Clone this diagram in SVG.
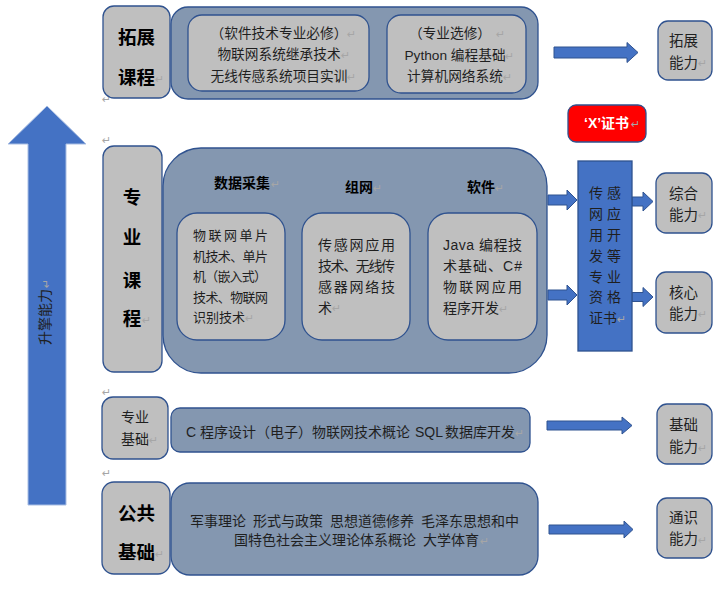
<svg xmlns="http://www.w3.org/2000/svg" width="718" height="591" viewBox="0 0 718 591">
<style>
text{font-family:"Liberation Sans","Noto Sans CJK SC",sans-serif;fill:#1f1f1f}
.lbl{fill:#BFBFBF;stroke:#2F528F;stroke-width:1.3}
.cnt{fill:#8497B0;stroke:#2F528F;stroke-width:1.3}
.arr{fill:#4472C4;stroke:#2F528F;stroke-width:1}
.b18{font-size:18.5px;font-weight:bold;fill:#000}
.t14{font-size:14px}
.t13{font-size:13px}
.t137{font-size:13.7px}
.ab{font-size:14.5px}
.h14{font-size:14px;font-weight:bold;fill:#000}
.rm{font-family:"DejaVu Sans",sans-serif;font-size:11px;fill:#A6A6A6}
</style>
<rect width="718" height="591" fill="#fff"/>
<g id="connectors">
<polygon class="arr" points="28,505 66,505 66,144 86,144 47,106 8,144 28,144" style="stroke:#A9BEE3"/>
<polygon class="arr" points="554,47 627,47 627,42.5 638,52.5 627,62.5 627,58 554,58"/>
<polygon class="arr" points="548,195 567,195 567,190 577,200 567,210 567,205 548,205"/>
<polygon class="arr" points="548,290 567,290 567,285 577,295 567,305 567,300 548,300"/>
<polygon class="arr" points="632,197 643,197 643,192 653,201.5 643,211 643,206 632,206"/>
<polygon class="arr" points="632,292.5 643,292.5 643,287.5 653,297 643,306.5 643,301.5 632,301.5"/>
<polygon class="arr" points="547,421 622,421 622,417 632,425.5 622,434 622,430 547,430"/>
<polygon class="arr" points="549,525 624,525 624,521 633,529.5 624,538 624,534 549,534"/>
</g>
<g id="arrow-label">
<g transform="translate(50,345) rotate(-90)">
<text x="0" y="0" class="t14">升擎能力</text>
<text x="57" y="0" class="rm">↵</text>
</g>
</g>
<g id="paragraph-marks">
<text x="102" y="103" class="rm">↵</text>
<text x="102" y="144" class="rm">↵</text>
<text x="102" y="396" class="rm">↵</text>
<text x="102" y="477" class="rm">↵</text>
</g>
<g id="tuozhan-label">
<rect class="lbl" x="103" y="6" width="67" height="92" rx="11"/>
<text x="136.5" y="43.5" class="b18" text-anchor="middle">拓展</text>
<text x="136.5" y="83.5" class="b18" text-anchor="middle">课程</text>
<text x="155" y="83" class="rm">↵</text>
</g>
<g id="tuozhan-courses">
<rect class="cnt" x="171" y="7" width="367" height="92" rx="17"/>
<rect class="lbl" x="188" y="15" width="181" height="76" rx="14"/>
<text x="279" y="38" class="t137" text-anchor="middle">（软件技术专业必修）</text>
<text x="347" y="38" class="rm">↵</text>
<text x="279" y="58.5" class="t137" text-anchor="middle">物联网系统继承技术</text>
<text x="341" y="58.5" class="rm">↵</text>
<text x="279" y="81" class="t137" text-anchor="middle">无线传感系统项目实训</text>
<text x="347" y="81" class="rm">↵</text>
<rect class="lbl" x="387" y="15" width="139" height="78" rx="14"/>
<text x="450" y="38" class="t137" text-anchor="middle">（专业选修）</text>
<text x="496" y="38" class="rm">↵</text>
<text x="455" y="60" class="t137" text-anchor="middle">Python 编程基础</text>
<text x="505" y="60" class="rm">↵</text>
<text x="455" y="81" class="t137" text-anchor="middle">计算机网络系统</text>
<text x="503" y="81" class="rm">↵</text>
</g>
<g id="tuozhan-ability">
<rect class="lbl" x="658" y="21" width="54" height="59" rx="10"/>
<text x="669" y="45.5" class="ab">拓展</text>
<text x="669" y="67.5" class="ab">能力</text>
<text x="698" y="67" class="rm">↵</text>
</g>
<g id="x-cert">
<rect x="568" y="105" width="78" height="37" rx="8" fill="#FF0000" stroke="#2F528F" stroke-width="1.3"/>
<text x="584" y="128" style="font-size:14px;font-weight:bold;fill:#fff">‘X’证书</text>
<text x="631" y="128" class="rm">↵</text>
</g>
<g id="zhuanye-label">
<rect class="lbl" x="103" y="146" width="59" height="226" rx="11"/>
<text x="132" y="203.5" class="b18" text-anchor="middle">专</text>
<text x="132" y="243.5" class="b18" text-anchor="middle">业</text>
<text x="132" y="286.5" class="b18" text-anchor="middle">课</text>
<text x="132" y="324.5" class="b18" text-anchor="middle">程</text>
<text x="142" y="324" class="rm">↵</text>
</g>
<g id="zhuanye-courses">
<rect class="cnt" x="163" y="148" width="384" height="225" rx="38"/>
<text x="242" y="188" class="h14" text-anchor="middle">数据采集</text>
<text x="271" y="188" class="rm">↵</text>
<text x="359" y="192" class="h14" text-anchor="middle">组网</text>
<text x="373" y="192" class="rm">↵</text>
<text x="481" y="192" class="h14" text-anchor="middle">软件</text>
<text x="495" y="192" class="rm">↵</text>
<rect class="lbl" x="177" y="213" width="108" height="127" rx="20"/>
<text x="193" y="240" class="t13" textLength="75" lengthAdjust="spacing">物联网单片</text>
<text x="193" y="260.5" class="t13" textLength="75" lengthAdjust="spacing">机技术、单片</text>
<text x="193" y="281" class="t13" textLength="74" lengthAdjust="spacing">机（嵌入式）</text>
<text x="193" y="302" class="t13" textLength="75" lengthAdjust="spacing">技术、物联网</text>
<text x="193" y="322" class="t13" textLength="52" lengthAdjust="spacing">识别技术</text>
<text x="245" y="322" class="rm">↵</text>
<rect class="lbl" x="302" y="213" width="108" height="127" rx="20"/>
<text x="318" y="250" class="t14" textLength="77" lengthAdjust="spacing">传感网应用</text>
<text x="318" y="270.5" class="t14" textLength="77" lengthAdjust="spacing">技术、无线传</text>
<text x="318" y="292" class="t14" textLength="77" lengthAdjust="spacing">感器网络技</text>
<text x="318" y="312.5" class="t14">术</text>
<text x="332" y="312" class="rm">↵</text>
<rect class="lbl" x="428" y="213" width="109" height="127" rx="20"/>
<text x="443" y="250" class="t14" textLength="79" lengthAdjust="spacing">Java 编程技</text>
<text x="443" y="271" class="t14" textLength="79" lengthAdjust="spacing">术基础、C#</text>
<text x="443" y="292" class="t14" textLength="79" lengthAdjust="spacing">物联网应用</text>
<text x="443" y="313" class="t14">程序开发</text>
<text x="499" y="312.5" class="rm">↵</text>
</g>
<g id="cert-box">
<rect x="578" y="161" width="54" height="190" fill="#4472C4" stroke="#2F528F" stroke-width="1.3"/>
<g class="t14" text-anchor="middle">
<text x="596" y="198" class="t14">传</text><text x="614" y="198" class="t14">感</text>
<text x="596" y="219" class="t14">网</text><text x="614" y="219" class="t14">应</text>
<text x="596" y="240" class="t14">用</text><text x="614" y="240" class="t14">开</text>
<text x="596" y="261" class="t14">发</text><text x="614" y="261" class="t14">等</text>
<text x="596" y="282" class="t14">专</text><text x="614" y="282" class="t14">业</text>
<text x="596" y="302" class="t14">资</text><text x="614" y="302" class="t14">格</text>
<text x="596" y="323" class="t14">证</text><text x="610" y="323" class="t14">书</text>
</g>
<text x="617" y="322.5" class="rm">↵</text>
</g>
<g id="zonghe-ability">
<rect class="lbl" x="656" y="173" width="56" height="60" rx="10"/>
<text x="669" y="198.5" class="ab">综合</text>
<text x="669" y="219.5" class="ab">能力</text>
<text x="698" y="219" class="rm">↵</text>
</g>
<g id="hexin-ability">
<rect class="lbl" x="656" y="272" width="56" height="61" rx="10"/>
<text x="669" y="297.5" class="ab">核心</text>
<text x="669" y="318.5" class="ab">能力</text>
<text x="698" y="318" class="rm">↵</text>
</g>
<g id="zhuanye-jichu-label">
<rect class="lbl" x="102" y="397" width="66" height="62" rx="11"/>
<text x="135" y="422" class="t14" text-anchor="middle">专业</text>
<text x="135" y="444" class="t14" text-anchor="middle">基础</text>
<text x="149" y="443.5" class="rm">↵</text>
</g>
<g id="zhuanye-jichu-courses">
<rect class="cnt" x="171" y="408" width="359" height="44" rx="9"/>
<text y="437" class="t14"><tspan x="186">C</tspan><tspan x="200">程序设计（电子）物联网技术概论</tspan><tspan x="415">SQL</tspan><tspan x="445">数据库开发</tspan></text>
<text x="515" y="436.5" class="rm">↵</text>
</g>
<g id="jichu-ability">
<rect class="lbl" x="657" y="404" width="55" height="60" rx="10"/>
<text x="669" y="430" class="ab">基础</text>
<text x="669" y="452" class="ab">能力</text>
<text x="698" y="451.5" class="rm">↵</text>
</g>
<g id="gonggong-label">
<rect class="lbl" x="102" y="482" width="68" height="92" rx="12"/>
<text x="136.5" y="519.5" class="b18" text-anchor="middle">公共</text>
<text x="136.5" y="558.5" class="b18" text-anchor="middle">基础</text>
<text x="155" y="558" class="rm">↵</text>
</g>
<g id="gonggong-courses">
<rect class="cnt" x="171" y="483" width="367" height="92" rx="19"/>
<text y="526" class="t14"><tspan x="190">军事理论</tspan><tspan x="253">形式与政策</tspan><tspan x="330">思想道德修养</tspan><tspan x="421">毛泽东思想和中</tspan></text>
<text y="545" class="t14"><tspan x="234">国特色社会主义理论体系概论</tspan><tspan x="423">大学体育</tspan></text>
<text x="480" y="544.5" class="rm">↵</text>
</g>
<g id="tongshi-ability">
<rect class="lbl" x="657" y="498" width="55" height="60" rx="10"/>
<text x="669" y="523" class="ab">通识</text>
<text x="669" y="544" class="ab">能力</text>
<text x="698" y="543.5" class="rm">↵</text>
</g>
</svg>
